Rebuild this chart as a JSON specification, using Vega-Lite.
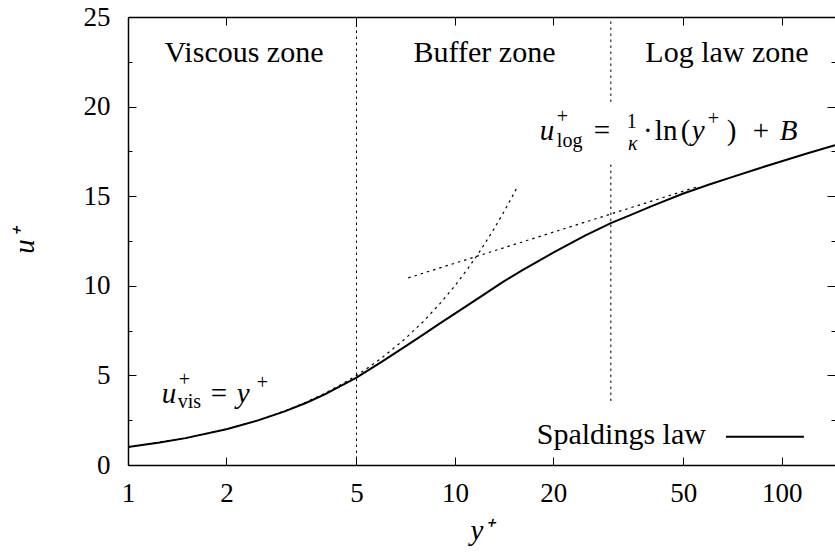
{
  "$schema": "https://vega.github.io/schema/vega-lite/v6.json",
  "width": 707,
  "height": 448,
  "autosize": {"type": "none"},
  "padding": {"left": 128, "top": 17, "right": 0, "bottom": 91},
  "background": "white",
  "config": {
    "view": {"stroke": null},
    "font": "Liberation Serif",
    "text": {"font": "Liberation Serif", "color": "black"},
    "axis": {"labelFont": "Liberation Serif", "titleFont": "Liberation Serif", "domainColor": "black", "tickColor": "black", "labelColor": "black", "titleColor": "black", "grid": false, "domainWidth": 1.5, "tickWidth": 1, "labelFlush": false, "labelOverlap": false, "titleFontWeight": "normal"}
  },
  "datasets": {
    "spalding": [
      {"x": 1, "y": 1.0}, {"x": 1.25, "y": 1.25}, {"x": 1.5, "y": 1.5}, {"x": 2, "y": 2.0}, {"x": 2.5, "y": 2.49},
      {"x": 3, "y": 2.98}, {"x": 3.5, "y": 3.46}, {"x": 4, "y": 3.94}, {"x": 5, "y": 4.88}, {"x": 6, "y": 5.78},
      {"x": 7, "y": 6.58}, {"x": 8, "y": 7.28}, {"x": 9, "y": 7.9}, {"x": 10, "y": 8.45}, {"x": 12, "y": 9.4},
      {"x": 14, "y": 10.2}, {"x": 16, "y": 10.85}, {"x": 20, "y": 11.85}, {"x": 25, "y": 12.8}, {"x": 30, "y": 13.5},
      {"x": 35, "y": 14.0}, {"x": 40, "y": 14.45}, {"x": 50, "y": 15.15}, {"x": 60, "y": 15.65}, {"x": 70, "y": 16.05},
      {"x": 85, "y": 16.55}, {"x": 100, "y": 16.95}, {"x": 120, "y": 17.4}, {"x": 145.5, "y": 17.85}
    ],
    "viscous": [
      {"x": 1, "y": 1}, {"x": 1.5, "y": 1.5}, {"x": 2, "y": 2}, {"x": 2.5, "y": 2.5}, {"x": 3, "y": 3}, {"x": 3.5, "y": 3.5},
      {"x": 4, "y": 4}, {"x": 4.5, "y": 4.5}, {"x": 5, "y": 5}, {"x": 5.5, "y": 5.5}, {"x": 6, "y": 6}, {"x": 7, "y": 7},
      {"x": 8, "y": 8}, {"x": 9, "y": 9}, {"x": 10, "y": 10}, {"x": 11, "y": 11}, {"x": 12, "y": 12}, {"x": 13, "y": 13},
      {"x": 14, "y": 14}, {"x": 15, "y": 15}, {"x": 15.4, "y": 15.4}
    ],
    "loglaw": [{"x": 7.2, "y": 10.44}, {"x": 55, "y": 15.52}],
    "zones": [
      {"x": 5, "y": 0, "y2": 25},
      {"x": 30, "y": 20.26, "y2": 25},
      {"x": 30, "y": 3.57, "y2": 16.9}
    ],
    "zonelabels": [
      {"x": 2.264, "y": 23.0, "label": "Viscous zone"},
      {"x": 12.32, "y": 23.0, "label": "Buffer zone"},
      {"x": 68.0, "y": 23.0, "label": "Log law zone"}
    ],
    "legend": [{"x": 58.6, "x1": 67.5, "x2": 116.9, "y": 1.58, "label": "Spaldings law"}],
    "visanchor": [{"x": 1.25, "y": 3.9}],
    "loganchor": [{"x": 30, "y": 18.5}]
  },
  "layer": [
    {
      "data": {"name": "viscous"},
      "mark": {"type": "line", "color": "black", "strokeWidth": 1.2, "strokeDash": [2.5, 4]},
      "encoding": {
        "x": {"field": "x", "type": "quantitative", "scale": {"type": "log", "domain": [1, 145.5], "nice": false},
              "axis": {"orient": "top", "values": [2, 5, 10, 20, 50, 100], "labels": false, "tickSize": -8, "title": null}},
        "y": {"field": "y", "type": "quantitative", "scale": {"domain": [0, 25], "nice": false},
              "axis": {"orient": "right", "values": [5, 10, 15, 20], "labels": false, "tickSize": -8, "domain": false, "title": null}}
      }
    },
    {
      "data": {"name": "loglaw"},
      "mark": {"type": "line", "color": "black", "strokeWidth": 1.2, "strokeDash": [2.5, 4]},
      "encoding": {
        "x": {"field": "x", "type": "quantitative", "scale": {"type": "log", "domain": [1, 145.5], "nice": false}, "axis": null},
        "y": {"field": "y", "type": "quantitative", "scale": {"domain": [0, 25], "nice": false},
              "axis": {"orient": "left", "values": [2.5, 7.5, 12.5, 17.5, 22.5], "labels": false, "tickSize": -4, "domain": false, "title": null}}
      }
    },
    {
      "data": {"name": "zones"},
      "mark": {"type": "rule", "color": "black", "strokeWidth": 1, "strokeDash": [2.5, 3.5]},
      "encoding": {
        "x": {"field": "x", "type": "quantitative", "scale": {"type": "log", "domain": [1, 145.5], "nice": false}, "axis": null},
        "y": {"field": "y", "type": "quantitative", "scale": {"domain": [0, 25], "nice": false},
              "axis": {"orient": "right", "values": [2.5, 7.5, 12.5, 17.5, 22.5], "labels": false, "tickSize": -4, "domain": false, "title": null}},
        "y2": {"field": "y2"}
      }
    },
    {
      "data": {"name": "spalding"},
      "mark": {"type": "line", "color": "black", "strokeWidth": 2},
      "encoding": {
        "x": {"field": "x", "type": "quantitative", "scale": {"type": "log", "domain": [1, 145.5], "nice": false},
              "axis": {"orient": "bottom", "values": [1, 2, 5, 10, 20, 50, 100], "format": "d", "tickSize": -8, "labelPadding": 23, "labelFontSize": 27,
                       "title": "y⁺", "titleFontSize": 29, "titleFontStyle": "italic", "titlePadding": 10}},
        "y": {"field": "y", "type": "quantitative", "scale": {"domain": [0, 25], "nice": false},
              "axis": {"orient": "left", "values": [0, 5, 10, 15, 20, 25], "format": "d", "tickSize": -8, "labelPadding": 26, "labelFontSize": 27,
                       "title": "u⁺", "titleFontSize": 29, "titleFontStyle": "italic", "titlePadding": 44}}
      }
    },
    {
      "data": {"name": "zonelabels"},
      "mark": {"type": "text", "fontSize": 30, "align": "center", "baseline": "middle"},
      "encoding": {
        "x": {"field": "x", "type": "quantitative", "scale": {"type": "log", "domain": [1, 145.5], "nice": false}, "axis": null},
        "y": {"field": "y", "type": "quantitative", "scale": {"domain": [0, 25], "nice": false}, "axis": null},
        "text": {"field": "label"}
      }
    },
    {
      "data": {"name": "legend"},
      "mark": {"type": "text", "fontSize": 30, "align": "right", "baseline": "alphabetic", "dy": 7},
      "encoding": {
        "x": {"field": "x", "type": "quantitative", "scale": {"type": "log", "domain": [1, 145.5], "nice": false}, "axis": null},
        "y": {"field": "y", "type": "quantitative", "scale": {"domain": [0, 25], "nice": false}, "axis": null},
        "text": {"field": "label"}
      }
    },
    {
      "data": {"name": "legend"},
      "mark": {"type": "rule", "color": "black", "strokeWidth": 2},
      "encoding": {
        "x": {"field": "x1", "type": "quantitative", "scale": {"type": "log", "domain": [1, 145.5], "nice": false}, "axis": null},
        "x2": {"field": "x2"},
        "y": {"field": "y", "type": "quantitative", "scale": {"domain": [0, 25], "nice": false}, "axis": null}
      }
    },
    {"data": {"name": "visanchor"}, "mark": {"type": "text", "text": "u", "fontSize": 29, "fontStyle": "italic", "align": "left", "baseline": "alphabetic", "dx": 2, "dy": 8},
     "encoding": {"x": {"field": "x", "type": "quantitative", "scale": {"type": "log", "domain": [1, 145.5], "nice": false}, "axis": null}, "y": {"field": "y", "type": "quantitative", "scale": {"domain": [0, 25], "nice": false}, "axis": null}}},
    {"data": {"name": "visanchor"}, "mark": {"type": "text", "text": "+", "fontSize": 20, "align": "left", "baseline": "alphabetic", "dx": 19, "dy": -9},
     "encoding": {"x": {"field": "x", "type": "quantitative", "scale": {"type": "log", "domain": [1, 145.5], "nice": false}, "axis": null}, "y": {"field": "y", "type": "quantitative", "scale": {"domain": [0, 25], "nice": false}, "axis": null}}},
    {"data": {"name": "visanchor"}, "mark": {"type": "text", "text": "vis", "fontSize": 20, "align": "left", "baseline": "alphabetic", "dx": 18, "dy": 13},
     "encoding": {"x": {"field": "x", "type": "quantitative", "scale": {"type": "log", "domain": [1, 145.5], "nice": false}, "axis": null}, "y": {"field": "y", "type": "quantitative", "scale": {"domain": [0, 25], "nice": false}, "axis": null}}},
    {"data": {"name": "visanchor"}, "mark": {"type": "text", "text": "=", "fontSize": 29, "align": "left", "baseline": "alphabetic", "dx": 51, "dy": 8},
     "encoding": {"x": {"field": "x", "type": "quantitative", "scale": {"type": "log", "domain": [1, 145.5], "nice": false}, "axis": null}, "y": {"field": "y", "type": "quantitative", "scale": {"domain": [0, 25], "nice": false}, "axis": null}}},
    {"data": {"name": "visanchor"}, "mark": {"type": "text", "text": "y", "fontSize": 29, "fontStyle": "italic", "align": "left", "baseline": "alphabetic", "dx": 77, "dy": 8},
     "encoding": {"x": {"field": "x", "type": "quantitative", "scale": {"type": "log", "domain": [1, 145.5], "nice": false}, "axis": null}, "y": {"field": "y", "type": "quantitative", "scale": {"domain": [0, 25], "nice": false}, "axis": null}}},
    {"data": {"name": "visanchor"}, "mark": {"type": "text", "text": "+", "fontSize": 20, "align": "left", "baseline": "alphabetic", "dx": 97, "dy": -6},
     "encoding": {"x": {"field": "x", "type": "quantitative", "scale": {"type": "log", "domain": [1, 145.5], "nice": false}, "axis": null}, "y": {"field": "y", "type": "quantitative", "scale": {"domain": [0, 25], "nice": false}, "axis": null}}},
    {"data": {"name": "loganchor"}, "mark": {"type": "text", "text": "u", "fontSize": 29, "fontStyle": "italic", "align": "left", "baseline": "alphabetic", "dx": -71, "dy": 6.5},
     "encoding": {"x": {"field": "x", "type": "quantitative", "scale": {"type": "log", "domain": [1, 145.5], "nice": false}, "axis": null}, "y": {"field": "y", "type": "quantitative", "scale": {"domain": [0, 25], "nice": false}, "axis": null}}},
    {"data": {"name": "loganchor"}, "mark": {"type": "text", "text": "+", "fontSize": 20, "align": "left", "baseline": "alphabetic", "dx": -54, "dy": -10},
     "encoding": {"x": {"field": "x", "type": "quantitative", "scale": {"type": "log", "domain": [1, 145.5], "nice": false}, "axis": null}, "y": {"field": "y", "type": "quantitative", "scale": {"domain": [0, 25], "nice": false}, "axis": null}}},
    {"data": {"name": "loganchor"}, "mark": {"type": "text", "text": "log", "fontSize": 20, "align": "left", "baseline": "alphabetic", "dx": -54, "dy": 13.5},
     "encoding": {"x": {"field": "x", "type": "quantitative", "scale": {"type": "log", "domain": [1, 145.5], "nice": false}, "axis": null}, "y": {"field": "y", "type": "quantitative", "scale": {"domain": [0, 25], "nice": false}, "axis": null}}},
    {"data": {"name": "loganchor"}, "mark": {"type": "text", "text": "=", "fontSize": 29, "align": "left", "baseline": "alphabetic", "dx": -17, "dy": 6.5},
     "encoding": {"x": {"field": "x", "type": "quantitative", "scale": {"type": "log", "domain": [1, 145.5], "nice": false}, "axis": null}, "y": {"field": "y", "type": "quantitative", "scale": {"domain": [0, 25], "nice": false}, "axis": null}}},
    {"data": {"name": "loganchor"}, "mark": {"type": "text", "text": "1", "fontSize": 20, "align": "center", "baseline": "alphabetic", "dx": 21, "dy": -5.5},
     "encoding": {"x": {"field": "x", "type": "quantitative", "scale": {"type": "log", "domain": [1, 145.5], "nice": false}, "axis": null}, "y": {"field": "y", "type": "quantitative", "scale": {"domain": [0, 25], "nice": false}, "axis": null}}},
    {"data": {"name": "loganchor"}, "mark": {"type": "text", "text": "κ", "fontSize": 20, "fontStyle": "italic", "align": "center", "baseline": "alphabetic", "dx": 22, "dy": 16.5},
     "encoding": {"x": {"field": "x", "type": "quantitative", "scale": {"type": "log", "domain": [1, 145.5], "nice": false}, "axis": null}, "y": {"field": "y", "type": "quantitative", "scale": {"domain": [0, 25], "nice": false}, "axis": null}}},
    {"data": {"name": "loganchor"}, "mark": {"type": "text", "text": "·", "fontSize": 29, "align": "center", "baseline": "alphabetic", "dx": 37, "dy": 6.5},
     "encoding": {"x": {"field": "x", "type": "quantitative", "scale": {"type": "log", "domain": [1, 145.5], "nice": false}, "axis": null}, "y": {"field": "y", "type": "quantitative", "scale": {"domain": [0, 25], "nice": false}, "axis": null}}},
    {"data": {"name": "loganchor"}, "mark": {"type": "text", "text": "ln", "fontSize": 29, "align": "left", "baseline": "alphabetic", "dx": 44, "dy": 6.5},
     "encoding": {"x": {"field": "x", "type": "quantitative", "scale": {"type": "log", "domain": [1, 145.5], "nice": false}, "axis": null}, "y": {"field": "y", "type": "quantitative", "scale": {"domain": [0, 25], "nice": false}, "axis": null}}},
    {"data": {"name": "loganchor"}, "mark": {"type": "text", "text": "(", "fontSize": 29, "align": "left", "baseline": "alphabetic", "dx": 70, "dy": 6.5},
     "encoding": {"x": {"field": "x", "type": "quantitative", "scale": {"type": "log", "domain": [1, 145.5], "nice": false}, "axis": null}, "y": {"field": "y", "type": "quantitative", "scale": {"domain": [0, 25], "nice": false}, "axis": null}}},
    {"data": {"name": "loganchor"}, "mark": {"type": "text", "text": "y", "fontSize": 29, "fontStyle": "italic", "align": "left", "baseline": "alphabetic", "dx": 81, "dy": 6.5},
     "encoding": {"x": {"field": "x", "type": "quantitative", "scale": {"type": "log", "domain": [1, 145.5], "nice": false}, "axis": null}, "y": {"field": "y", "type": "quantitative", "scale": {"domain": [0, 25], "nice": false}, "axis": null}}},
    {"data": {"name": "loganchor"}, "mark": {"type": "text", "text": "+", "fontSize": 20, "align": "left", "baseline": "alphabetic", "dx": 97, "dy": -8},
     "encoding": {"x": {"field": "x", "type": "quantitative", "scale": {"type": "log", "domain": [1, 145.5], "nice": false}, "axis": null}, "y": {"field": "y", "type": "quantitative", "scale": {"domain": [0, 25], "nice": false}, "axis": null}}},
    {"data": {"name": "loganchor"}, "mark": {"type": "text", "text": ")", "fontSize": 29, "align": "left", "baseline": "alphabetic", "dx": 116, "dy": 6.5},
     "encoding": {"x": {"field": "x", "type": "quantitative", "scale": {"type": "log", "domain": [1, 145.5], "nice": false}, "axis": null}, "y": {"field": "y", "type": "quantitative", "scale": {"domain": [0, 25], "nice": false}, "axis": null}}},
    {"data": {"name": "loganchor"}, "mark": {"type": "text", "text": "+", "fontSize": 29, "align": "left", "baseline": "alphabetic", "dx": 142, "dy": 6.5},
     "encoding": {"x": {"field": "x", "type": "quantitative", "scale": {"type": "log", "domain": [1, 145.5], "nice": false}, "axis": null}, "y": {"field": "y", "type": "quantitative", "scale": {"domain": [0, 25], "nice": false}, "axis": null}}},
    {"data": {"name": "loganchor"}, "mark": {"type": "text", "text": "B", "fontSize": 29, "fontStyle": "italic", "align": "left", "baseline": "alphabetic", "dx": 169, "dy": 6.5},
     "encoding": {"x": {"field": "x", "type": "quantitative", "scale": {"type": "log", "domain": [1, 145.5], "nice": false}, "axis": null}, "y": {"field": "y", "type": "quantitative", "scale": {"domain": [0, 25], "nice": false}, "axis": null}}}
  ],
  "resolve": {"axis": {"x": "independent", "y": "independent"}}
}
